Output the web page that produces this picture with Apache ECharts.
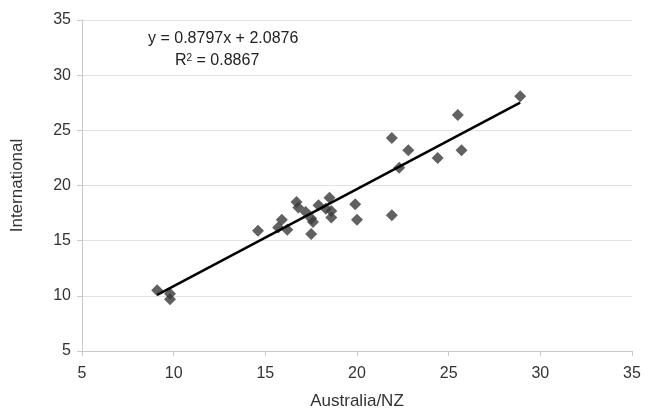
<!DOCTYPE html>
<html>
<head>
<meta charset="utf-8">
<script src="https://cdn.jsdelivr.net/npm/echarts@6/dist/echarts.min.js"></script>
<style>
  html, body { margin: 0; padding: 0; background: #fff; }
  #chart { width: 649px; height: 415px; }
</style>
</head>
<body>
<div id="chart"></div>
<script>
// Australia/NZ vs International
const auNz = [9.1, 9.8, 9.8, 14.6, 15.7, 15.9, 16.2, 16.7, 16.8, 17.2, 17.5, 17.5, 17.6, 17.9, 18.3, 18.5, 18.6, 18.6, 19.9, 20.0, 21.9, 21.9, 22.3, 22.8, 24.4, 25.5, 25.7, 28.9];
const intl = [10.5, 10.2, 9.7, 15.9, 16.2, 16.9, 16.0, 18.5, 18.0, 17.6, 15.6, 17.0, 16.7, 18.2, 17.9, 18.9, 17.7, 17.1, 18.3, 16.9, 24.3, 17.3, 21.6, 23.2, 22.5, 26.4, 23.2, 28.1];
const slope = 0.8797;
const intercept = 2.0876;
const rSquared = 0.8867;
const axisTicks = [5, 10, 15, 20, 25, 30, 35];

const chart = echarts.init(document.getElementById('chart'));

const points = auNz.map((x, i) => [x, intl[i]]);
const xMin = Math.min(...auNz);
const xMax = Math.max(...auNz);
const trend = [[xMin, slope * xMin + intercept], [xMax, slope * xMax + intercept]];

const font = 'Liberation Sans, Arial, sans-serif';

chart.setOption({
  animation: false,
  grid: { left: 82, right: 17, top: 20, bottom: 57 },
  xAxis: {
    type: 'value',
    min: axisTicks[0],
    max: axisTicks[axisTicks.length - 1],
    interval: 5,
    name: 'Australia/NZ',
    nameLocation: 'middle',
    nameGap: 42,
    nameTextStyle: { fontFamily: font, fontSize: 17, color: '#333' },
    axisLine: { show: true, lineStyle: { color: '#c8c8c8', width: 1 } },
    axisTick: { show: true, length: 5, lineStyle: { color: '#c8c8c8' } },
    axisLabel: { fontFamily: font, fontSize: 16, color: '#333', margin: 15 },
    splitLine: { show: false }
  },
  yAxis: {
    type: 'value',
    min: axisTicks[0],
    max: axisTicks[axisTicks.length - 1],
    interval: 5,
    name: 'International',
    nameLocation: 'middle',
    nameGap: 56,
    nameRotate: 90,
    nameTextStyle: { fontFamily: font, fontSize: 17, color: '#333' },
    axisLine: { show: true, lineStyle: { color: '#c8c8c8', width: 1 } },
    axisTick: { show: true, length: 5, lineStyle: { color: '#c8c8c8' } },
    axisLabel: { fontFamily: font, fontSize: 16, color: '#333', margin: 11 },
    splitLine: { show: true, lineStyle: { color: '#e2e2e2', width: 1 } }
  },
  graphic: [
    {
      type: 'text', left: 148, top: 31,
      style: { text: 'y = 0.8797x + 2.0876', font: '16px ' + font, fill: '#222' }
    },
    {
      type: 'text', left: 175, top: 53,
      style: {
        text: 'R{sup|2} = ' + rSquared,
        font: '16px ' + font,
        fill: '#222',
        rich: { sup: { fontSize: 10, fontFamily: font, fill: '#222', verticalAlign: 'top', padding: [0, 0, 6, 0] } }
      }
    }
  ],
  series: [
    {
      type: 'scatter',
      data: points,
      symbol: 'diamond',
      symbolSize: 12,
      itemStyle: { color: '#3a3a3a' },
      z: 2
    },
    {
      type: 'line',
      data: trend,
      symbol: 'none',
      lineStyle: { color: '#000', width: 2.5 },
      z: 3
    }
  ]
});
</script>
</body>
</html>
